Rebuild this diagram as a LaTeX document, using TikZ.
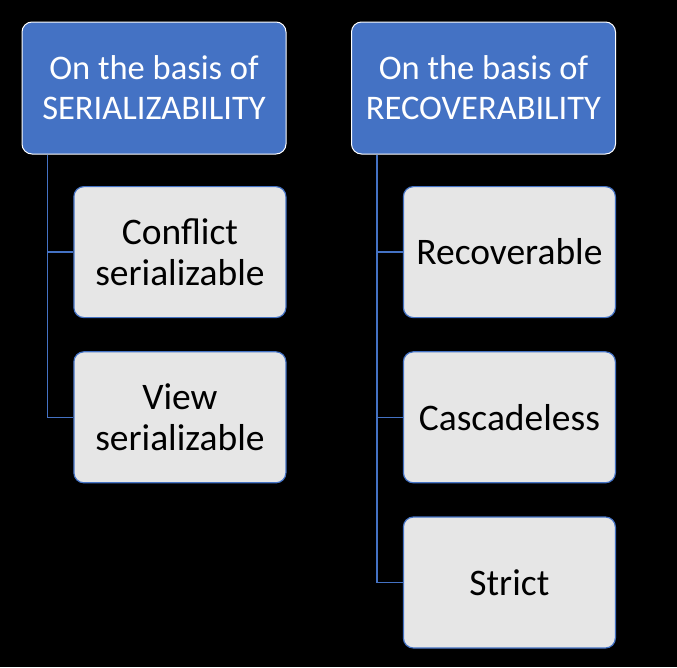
\documentclass[tikz,border=0pt]{standalone}
\usepackage{fontspec}
\setmainfont{Carlito}
\usetikzlibrary{positioning}
\usetikzlibrary{calc}
\definecolor{hdrblue}{HTML}{4472C4}
\definecolor{boxgray}{HTML}{E6E6E6}

\begin{document}
\begin{tikzpicture}[node distance=33pt, every node/.style={align=center},
	header/.style={draw=white,line width=1pt,rounded corners=10pt,fill=hdrblue,text=white,minimum width=264pt,minimum height=132pt,font=\fontsize{34.5}{40}\selectfont},
	kind/.style={draw=hdrblue,line width=1.2pt,rounded corners=10pt,fill=boxgray,text=black,minimum width=212pt,minimum height=131pt,font=\fontsize{37.5}{41}\selectfont},
	link/.style={draw=hdrblue,line width=1.6pt}]
			\fill[black] (0,0) rectangle (677pt,-667pt);
			\useasboundingbox (0,0) rectangle (677pt,-667pt);
			\node[header] (ser) at (154pt,-88pt) {On the basis of\\SERIALIZABILITY};
			\node[header] (rec) at (483.5pt,-88pt) {On the basis of\\RECOVERABILITY};
			\node[kind,below left=31.5pt and 0pt of ser.south east] (conf) {Conflict\\serializable};
			\node[kind,below=of conf] (view) {View\\serializable};
			\node[kind,below left=31.5pt and 0pt of rec.south east] (recov) {Recoverable};
			\node[kind,below=of recov] (casc) {Cascadeless};
			\node[kind,below=of casc] (strict) {Strict};
			\coordinate (sertop) at ([xshift=26pt]ser.south west);
			\coordinate (rectop) at ([xshift=26pt]rec.south west);
			\draw[link] (sertop) |- (view.west);
			\draw[link] (sertop |- conf.west) -- (conf.west);
			\draw[link] (rectop) |- (strict.west);
			\draw[link] (rectop |- recov.west) -- (recov.west);
			\draw[link] (rectop |- casc.west) -- (casc.west);
		\end{tikzpicture}
\end{document}
